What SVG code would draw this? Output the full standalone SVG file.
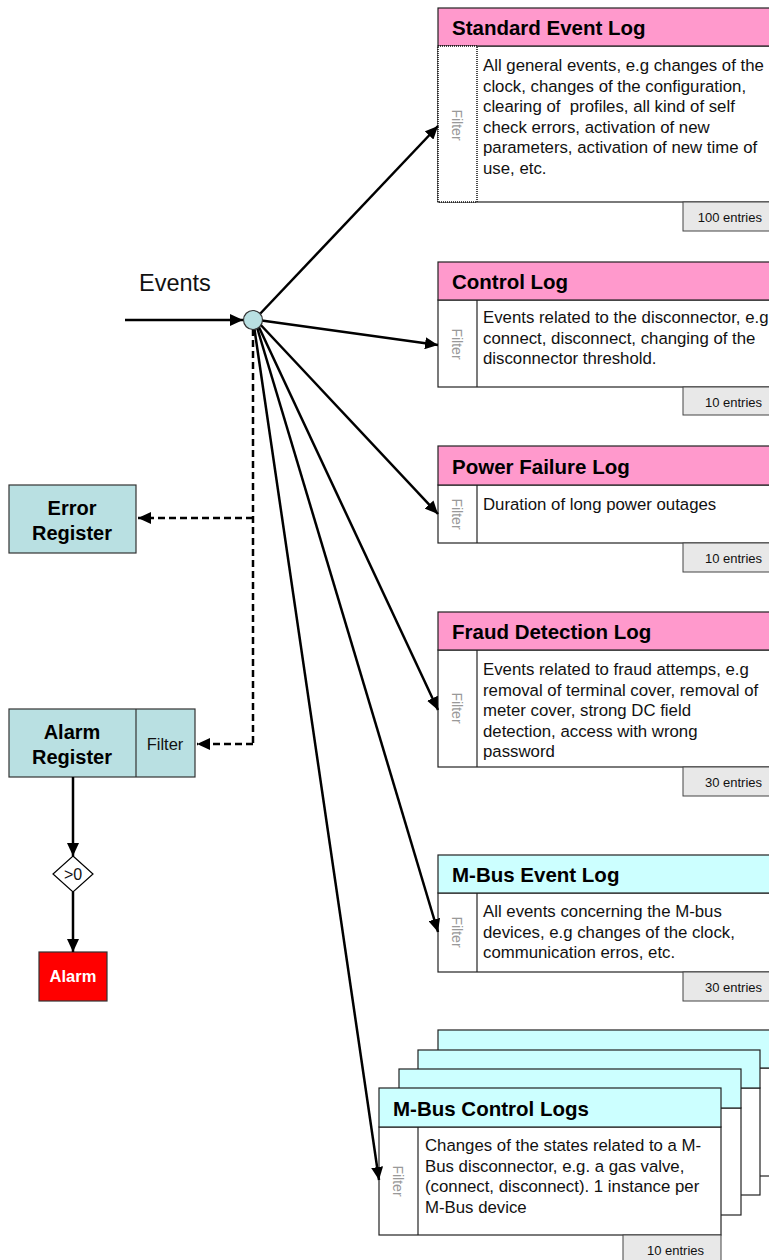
<svg xmlns="http://www.w3.org/2000/svg" width="769" height="1260" viewBox="0 0 769 1260">
  <defs>
    <marker id="arrow" markerUnits="userSpaceOnUse" markerWidth="14" markerHeight="12" refX="13" refY="6" orient="auto">
      <path d="M0,0 L13,6 L0,12 Z" fill="#000"/>
    </marker>
    <style>
      text { font-family: "Liberation Sans", Arial, sans-serif; white-space: pre; }
      .frame { fill: #fff; stroke: #222; stroke-width: 1.2; }
      .hdr-pink { fill: #ff99cc; stroke: #222; stroke-width: 1.2; }
      .hdr-cyan { fill: #ccffff; stroke: #222; stroke-width: 1.2; }
      .title { font-size: 20.5px; font-weight: bold; fill: #000; }
      .body { font-size: 16.8px; fill: #111; }
      .filter { font-size: 14px; fill: #999; text-anchor: middle; }
      .tab { fill: #e8e8e8; stroke: #444; stroke-width: 1; }
      .tabtxt { font-size: 13px; fill: #111; text-anchor: end; }
      .reg { fill: #b9e0e2; stroke: #333; stroke-width: 1.2; }
      .regtxt { font-size: 20px; font-weight: bold; text-anchor: middle; fill: #000; }
      .flow { fill: none; stroke: #000; stroke-width: 2.5; marker-end: url(#arrow); }
      .dash { fill: none; stroke: #000; stroke-width: 2.5; stroke-dasharray: 7 4; }
    </style>
  </defs>

  <rect width="769" height="1260" fill="#fff"/>

  <!-- Standard Event Log -->
  <g id="standard-event-log">
    <rect class="frame" x="438" y="46" width="340" height="156"/>
    <rect class="hdr-pink" x="438" y="8" width="340" height="38"/>
    <text class="title" x="452" y="35">Standard Event Log</text>
    <rect x="438" y="46" width="39" height="156" fill="#fff" stroke="#111" stroke-width="1.5" stroke-dasharray="1 1"/>
    <text class="filter" transform="translate(452,125) rotate(90)">Filter</text>
    <text class="body">
      <tspan x="483" y="71">All general events, e.g changes of the</tspan>
      <tspan x="483" y="91.5">clock, changes of the configuration,</tspan>
      <tspan x="483" y="112">clearing of  profiles, all kind of self</tspan>
      <tspan x="483" y="132.5">check errors, activation of new</tspan>
      <tspan x="483" y="153">parameters, activation of new time of</tspan>
      <tspan x="483" y="173.5">use, etc.</tspan>
    </text>
    <rect class="tab" x="683" y="202" width="95" height="29"/>
    <text class="tabtxt" x="762" y="222">100 entries</text>
  </g>

  <!-- Control Log -->
  <g id="control-log">
    <rect class="frame" x="438" y="300" width="340" height="87"/>
    <rect class="hdr-pink" x="438" y="262" width="340" height="38"/>
    <text class="title" x="452" y="289">Control Log</text>
    <line x1="477" y1="300" x2="477" y2="387" stroke="#222" stroke-width="1.2"/>
    <text class="filter" transform="translate(452,344) rotate(90)">Filter</text>
    <text class="body">
      <tspan x="483" y="323">Events related to the disconnector, e.g</tspan>
      <tspan x="483" y="343.5">connect, disconnect, changing of the</tspan>
      <tspan x="483" y="364">disconnector threshold.</tspan>
    </text>
    <rect class="tab" x="683" y="387" width="95" height="28"/>
    <text class="tabtxt" x="762" y="407">10 entries</text>
  </g>

  <!-- Power Failure Log -->
  <g id="power-failure-log">
    <rect class="frame" x="438" y="485" width="340" height="58"/>
    <rect class="hdr-pink" x="438" y="446" width="340" height="39"/>
    <text class="title" x="452" y="474">Power Failure Log</text>
    <line x1="477" y1="485" x2="477" y2="543" stroke="#222" stroke-width="1.2"/>
    <text class="filter" transform="translate(452,514) rotate(90)">Filter</text>
    <text class="body" x="483" y="510">Duration of long power outages</text>
    <rect class="tab" x="683" y="543" width="95" height="29"/>
    <text class="tabtxt" x="762" y="563">10 entries</text>
  </g>

  <!-- Fraud Detection Log -->
  <g id="fraud-detection-log">
    <rect class="frame" x="438" y="650" width="340" height="117"/>
    <rect class="hdr-pink" x="438" y="612" width="340" height="38"/>
    <text class="title" x="452" y="639">Fraud Detection Log</text>
    <line x1="477" y1="650" x2="477" y2="767" stroke="#222" stroke-width="1.2"/>
    <text class="filter" transform="translate(452,708) rotate(90)">Filter</text>
    <text class="body">
      <tspan x="483" y="675">Events related to fraud attemps, e.g</tspan>
      <tspan x="483" y="695.5">removal of terminal cover, removal of</tspan>
      <tspan x="483" y="716">meter cover, strong DC field</tspan>
      <tspan x="483" y="736.5">detection, access with wrong</tspan>
      <tspan x="483" y="757">password</tspan>
    </text>
    <rect class="tab" x="683" y="767" width="95" height="29"/>
    <text class="tabtxt" x="762" y="787">30 entries</text>
  </g>

  <!-- M-Bus Event Log -->
  <g id="mbus-event-log">
    <rect class="frame" x="438" y="893" width="340" height="79"/>
    <rect class="hdr-cyan" x="438" y="855" width="340" height="38"/>
    <text class="title" x="452" y="882">M-Bus Event Log</text>
    <line x1="477" y1="893" x2="477" y2="972" stroke="#222" stroke-width="1.2"/>
    <text class="filter" transform="translate(452,932) rotate(90)">Filter</text>
    <text class="body">
      <tspan x="483" y="917">All events concerning the M-bus</tspan>
      <tspan x="483" y="937.5">devices, e.g changes of the clock,</tspan>
      <tspan x="483" y="958">communication erros, etc.</tspan>
    </text>
    <rect class="tab" x="683" y="972" width="95" height="29"/>
    <text class="tabtxt" x="762" y="992">30 entries</text>
  </g>

  <!-- M-Bus Control Logs (stack of instances) -->
  <g id="mbus-control-logs">
    <rect class="frame" x="438" y="1068" width="340" height="108"/>
    <rect class="hdr-cyan" x="438" y="1030" width="340" height="38"/>
    <rect class="frame" x="418" y="1088" width="342" height="107"/>
    <rect class="hdr-cyan" x="418" y="1050" width="342" height="38"/>
    <rect class="frame" x="399" y="1108" width="342" height="107"/>
    <rect class="hdr-cyan" x="399" y="1069" width="342" height="39"/>
    <rect class="frame" x="379" y="1127" width="342" height="108"/>
    <rect class="hdr-cyan" x="379" y="1088" width="342" height="39"/>
    <text class="title" x="393" y="1116">M-Bus Control Logs</text>
    <line x1="418" y1="1127" x2="418" y2="1235" stroke="#222" stroke-width="1.2"/>
    <text class="filter" transform="translate(393,1181) rotate(90)">Filter</text>
    <text class="body">
      <tspan x="425" y="1151">Changes of the states related to a M-</tspan>
      <tspan x="425" y="1171.5">Bus disconnector, e.g. a gas valve,</tspan>
      <tspan x="425" y="1192">(connect, disconnect). 1 instance per</tspan>
      <tspan x="425" y="1212.5">M-Bus device</tspan>
    </text>
    <rect class="tab" x="623" y="1235" width="98" height="30"/>
    <text class="tabtxt" x="704" y="1255">10 entries</text>
  </g>

  <!-- Error Register -->
  <g id="error-register">
    <rect class="reg" x="9" y="485" width="127" height="68"/>
    <text class="regtxt" x="72" y="515">Error</text>
    <text class="regtxt" x="72" y="540">Register</text>
  </g>

  <!-- Alarm Register with its filter -->
  <g id="alarm-register">
    <rect class="reg" x="9" y="709" width="186" height="68"/>
    <line x1="136" y1="709" x2="136" y2="777" stroke="#333" stroke-width="1.2"/>
    <text class="regtxt" x="72" y="739">Alarm</text>
    <text class="regtxt" x="72" y="764">Register</text>
    <text x="165" y="750" font-size="16.5" text-anchor="middle" fill="#111">Filter</text>
  </g>

  <!-- Threshold check -->
  <g id="threshold">
    <path d="M73,856 L93,874 L73,892 L53,874 Z" fill="#fff" stroke="#000" stroke-width="1.2"/>
    <text x="73" y="880" font-size="16" text-anchor="middle" fill="#111">&gt;0</text>
  </g>

  <!-- Alarm output -->
  <g id="alarm">
    <rect x="39" y="952" width="68" height="49" fill="#ff0000" stroke="#333" stroke-width="1.2"/>
    <text x="73" y="982" font-size="16.5" font-weight="bold" text-anchor="middle" fill="#fff">Alarm</text>
  </g>

  <!-- Events label -->
  <g id="events-label">
    <text x="139" y="291" font-size="23.5" fill="#111">Events</text>
  </g>

  <!-- Connectors -->
  <g id="connectors">
    <path class="dash" d="M253,329 V744"/>
    <path class="dash" d="M253,518 H138" marker-end="url(#arrow)"/>
    <path class="dash" d="M253,744 H197" marker-end="url(#arrow)"/>
    <path class="flow" d="M125,320 H243"/>
    <path class="flow" d="M258,316 L438,126"/>
    <path class="flow" d="M258,320 L438,345"/>
    <path class="flow" d="M258,322 L438,514"/>
    <path class="flow" d="M257,323 L438,710"/>
    <path class="flow" d="M256,324 L438,932"/>
    <path class="flow" d="M254,326 L379,1180"/>
    <path class="flow" d="M73,777 V856"/>
    <path class="flow" d="M73,892 V952"/>
  </g>

  <!-- Distribution hub -->
  <g id="hub">
    <circle cx="253" cy="320" r="9.5" fill="#b9e0e2" stroke="#333" stroke-width="1.2"/>
  </g>
</svg>
